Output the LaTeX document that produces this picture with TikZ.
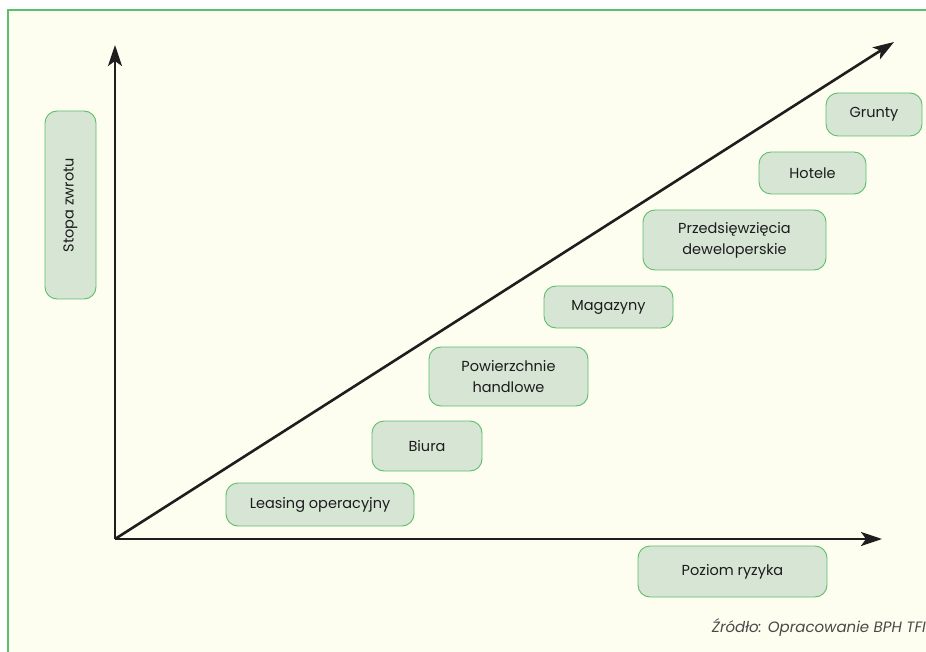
\documentclass[tikz,border=0pt]{standalone}
\usepackage{fontspec}
\setmainfont{Poppins}
\usetikzlibrary{arrows.meta}
\definecolor{paper}{HTML}{FDFDF0}
\definecolor{framegreen}{HTML}{5CBF6C}
\definecolor{boxfill}{HTML}{D6E5D4}
\definecolor{ink}{HTML}{1C1C1C}
\definecolor{axis}{HTML}{1E1E1E}
\tikzset{
  cat/.style={draw=framegreen, line width=0.9pt, fill=boxfill, rounded corners=12pt,
    text=ink, font=\fontsize{14.5}{21}\selectfont, align=center, inner sep=0pt},
  axisline/.style={draw=axis, line width=2.6pt,
    -{Stealth[length=21pt,width=14pt,inset=5pt]}},
}
\begin{document}
\begin{tikzpicture}[x=1pt,y=-1pt]
\useasboundingbox (0,0) rectangle (926,652);
\fill[white] (0,0) rectangle (926,652);
\fill[paper] (8,10) rectangle (926,652);
\draw[framegreen, line width=1.6pt] (8,652) -- (8,10) -- (926,10);

% axes
\coordinate (O) at (115,539);
\coordinate (ytip) at (115,45);
\coordinate (xtip) at (882,539);
\coordinate (dtip) at (894,42);
\draw[axisline] (O) -- (ytip);
\draw[axisline] (O) -- (xtip);
\draw[axisline] (O) -- (dtip);

% axis labels
\node[cat, minimum width=51pt, minimum height=188pt] (stopa) at (70.5,205)
  {\rotatebox{90}{Stopa zwrotu}};
\node[cat, minimum width=189pt, minimum height=51pt] (ryzyko) at (732.5,571.5) {Poziom ryzyka};

% categories
\node[cat, minimum width=188pt, minimum height=43pt] (leasing) at (320,504.5) {Leasing operacyjny};
\node[cat, minimum width=110pt, minimum height=50pt] (biura) at (427,446) {Biura};
\node[cat, minimum width=159pt, minimum height=59pt] (handel) at (508.5,376.5) {Powierzchnie\\handlowe};
\node[cat, minimum width=129pt, minimum height=42pt] (magazyny) at (608.5,307) {Magazyny};
\node[cat, minimum width=183pt, minimum height=60pt] (dewel) at (734.5,240) {Przedsięwzięcia\\deweloperskie};
\node[cat, minimum width=107pt, minimum height=42pt] (hotele) at (812.5,173) {Hotele};
\node[cat, minimum width=96pt, minimum height=43pt] (grunty) at (874,114.5) {Grunty};

% source
\node[anchor=east, text=ink!80, font=\fontsize{15}{18}\selectfont\itshape, inner sep=0pt] (zrodlo) at (926,627)
  {Źródło: Opracowanie BPH TFI};
\end{tikzpicture}
\end{document}
